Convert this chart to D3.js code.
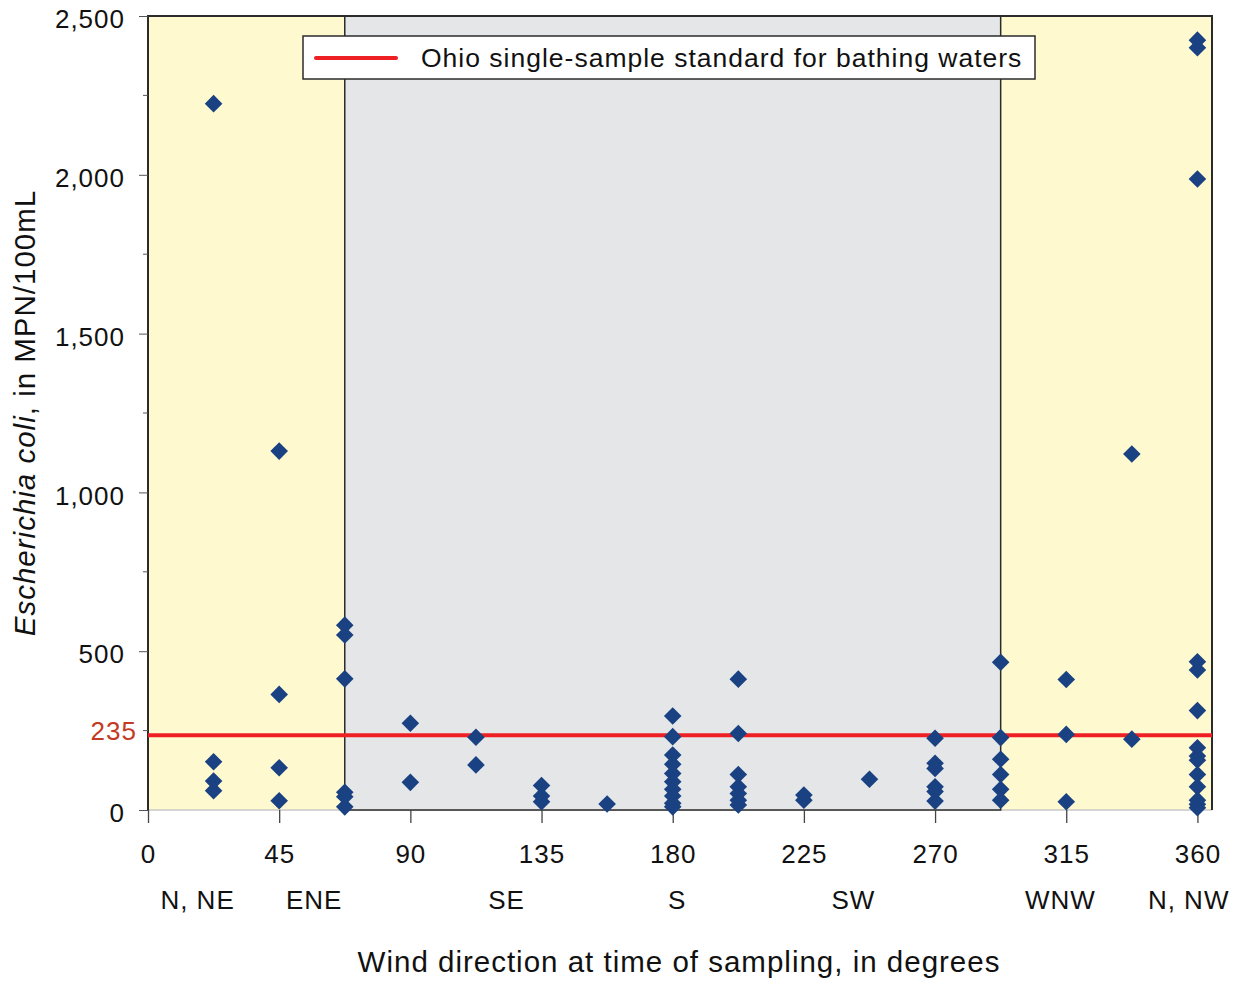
<!DOCTYPE html>
<html>
<head>
<meta charset="utf-8">
<script src="https://cdn.jsdelivr.net/npm/d3@7"></script>
<style>
  body { margin: 0; background: #fff; }
  svg { font-family: "Liberation Sans", Arial, sans-serif; }
</style>
</head>
<body>
<svg width="1236" height="981"></svg>
<script>
// DATA
var directions = [22.5, 45, 67.5, 90, 112.5, 135, 157.5, 180, 202.5, 225, 247.5, 270, 292.5, 315, 337.5, 360];
var ecoliByDirection = [
  [2224, 152, 91, 61],
  [1130, 364, 133, 29],
  [582, 551, 413, 56, 42, 10],
  [273, 87],
  [229, 142],
  [77, 44, 26],
  [19],
  [296, 231, 173, 144, 115, 89, 65, 44, 21, 10],
  [412, 241, 112, 73, 52, 31, 16],
  [47, 31],
  [97],
  [226, 147, 131, 73, 58, 28],
  [465, 228, 160, 112, 65, 31],
  [411, 238, 26],
  [1121, 223],
  [2424, 2400, 1987, 467, 441, 313, 196, 170, 157, 112, 73, 31, 18, 7]
];
var xTicks = [0, 45, 90, 135, 180, 225, 270, 315, 360];
var yTicks = [0, 500, 1000, 1500, 2000, 2500];
var yMinorTicks = [250, 750, 1250, 1750, 2250];
var compassLabels = ["N, NE", "ENE", "SE", "S", "SW", "WNW", "N, NW"];
var compassDegrees = [17, 57, 123, 181.5, 242, 313, 357];
var onshoreZones = [[0, 67.5], [292.5, 365]];
var offshoreZone = [67.5, 292.5];
var standard = 235;
var legendLabel = "Ohio single-sample standard for bathing waters";

var points = [];
directions.forEach(function(d, i) {
  ecoliByDirection[i].forEach(function(v) { points.push({deg: d, val: v}); });
});

var svg = d3.select("svg");
var pLeft = 148, pRight = 1212, pTop = 16, pBottom = 810;
var textColor = "#111";

var x = d3.scaleLinear().domain([0, 365]).range([pLeft, pRight]);
var y = d3.scaleLinear().domain([0, 2500]).range([pBottom, pTop]);

// background zones
svg.selectAll(".onshore")
  .data(onshoreZones)
  .enter().append("rect")
  .attr("x", function(d) { return x(d[0]); })
  .attr("y", pTop)
  .attr("width", function(d) { return x(d[1]) - x(d[0]); })
  .attr("height", pBottom - pTop)
  .attr("fill", "#fff9d0");

// light line under the yellow areas
svg.append("line")
  .attr("x1", pLeft).attr("x2", pRight)
  .attr("y1", pBottom).attr("y2", pBottom)
  .attr("stroke", "#c8c8c8").attr("stroke-width", 1.5);

svg.append("rect")
  .attr("x", x(offshoreZone[0]))
  .attr("y", pTop)
  .attr("width", x(offshoreZone[1]) - x(offshoreZone[0]))
  .attr("height", pBottom - pTop)
  .attr("fill", "#e5e6e8")
  .attr("stroke", "#2b2b2b")
  .attr("stroke-width", 1.5);

// frame: left, top, right
svg.append("path")
  .attr("d", "M" + pLeft + "," + pBottom + "V" + pTop + "H" + pRight + "V" + pBottom)
  .attr("fill", "none")
  .attr("stroke", "#2b2b2b")
  .attr("stroke-width", 2);

// y axis
var yAxis = d3.axisLeft(y).tickValues(yTicks).tickSize(9).tickPadding(14)
  .tickFormat(d3.format(","));
var gy = svg.append("g").attr("transform", "translate(" + pLeft + ",0)").call(yAxis);
gy.select(".domain").remove();
gy.selectAll(".tick line").attr("stroke", "#555");
gy.selectAll(".tick text").attr("font-size", 26).attr("fill", textColor)
  .attr("letter-spacing", 1)
  .attr("dy", "0.45em")
  .attr("font-family", "Liberation Sans, Arial, sans-serif");

svg.append("g").selectAll("line")
  .data(yMinorTicks)
  .enter().append("line")
  .attr("x1", pLeft - 5).attr("x2", pLeft)
  .attr("y1", function(d) { return y(d); })
  .attr("y2", function(d) { return y(d); })
  .attr("stroke", "#555");

// x axis
var xAxis = d3.axisBottom(x).tickValues(xTicks).tickSize(13).tickPadding(22)
  .tickFormat(d3.format("d"));
var gx = svg.append("g").attr("transform", "translate(0," + pBottom + ")").call(xAxis);
gx.select(".domain").remove();
gx.selectAll(".tick line").attr("stroke", "#444").attr("stroke-width", 1.3);
gx.selectAll(".tick text").attr("font-size", 26).attr("fill", textColor)
  .attr("letter-spacing", 1)
  .attr("font-family", "Liberation Sans, Arial, sans-serif");

// compass labels
svg.append("g").selectAll("text")
  .data(compassLabels)
  .enter().append("text")
  .attr("x", function(d, i) { return x(compassDegrees[i]); })
  .attr("y", 909)
  .attr("text-anchor", "middle")
  .attr("font-size", 26)
  .attr("letter-spacing", 1)
  .attr("fill", textColor)
  .text(function(d) { return d; });

// standard line
svg.append("line")
  .attr("x1", pLeft).attr("x2", pRight)
  .attr("y1", y(standard)).attr("y2", y(standard))
  .attr("stroke", "#ee2024").attr("stroke-width", 4);

svg.append("text")
  .attr("x", 137)
  .attr("y", y(standard) + 5)
  .attr("text-anchor", "end")
  .attr("font-size", 26)
  .attr("letter-spacing", 1)
  .attr("fill", "#c23b22")
  .text(standard);

// points
var diamond = d3.symbol().type(d3.symbolSquare).size(155);
svg.append("g").selectAll("path")
  .data(points)
  .enter().append("path")
  .attr("d", diamond)
  .attr("transform", function(d) { return "translate(" + x(d.deg) + "," + y(d.val) + ") rotate(45)"; })
  .attr("fill", "#1a4282");

// legend
var lg = svg.append("g");
lg.append("rect")
  .attr("x", 303).attr("y", 36).attr("width", 732).attr("height", 43)
  .attr("fill", "#fff").attr("stroke", "#2b2b2b").attr("stroke-width", 1.5);
lg.append("line")
  .attr("x1", 316).attr("x2", 396).attr("y1", 58).attr("y2", 58)
  .attr("stroke", "#ee2024").attr("stroke-width", 4).attr("stroke-linecap", "round");
lg.append("text")
  .attr("x", 421).attr("y", 67)
  .attr("font-size", 26.5).attr("fill", textColor)
  .attr("letter-spacing", 1)
  .text(legendLabel);

// axis titles
svg.append("text")
  .attr("x", 679).attr("y", 972)
  .attr("text-anchor", "middle")
  .attr("font-size", 29.5).attr("fill", textColor)
  .attr("letter-spacing", 1)
  .text("Wind direction at time of sampling, in degrees");

var yt = svg.append("text")
  .attr("transform", "translate(35," + ((pTop + pBottom) / 2) + ") rotate(-90)")
  .attr("text-anchor", "middle")
  .attr("font-size", 29.5).attr("fill", textColor)
  .attr("letter-spacing", 1);
yt.append("tspan").attr("font-style", "italic").text("Escherichia coli");
yt.append("tspan").text(", in MPN/100mL");
</script>
</body>
</html>
